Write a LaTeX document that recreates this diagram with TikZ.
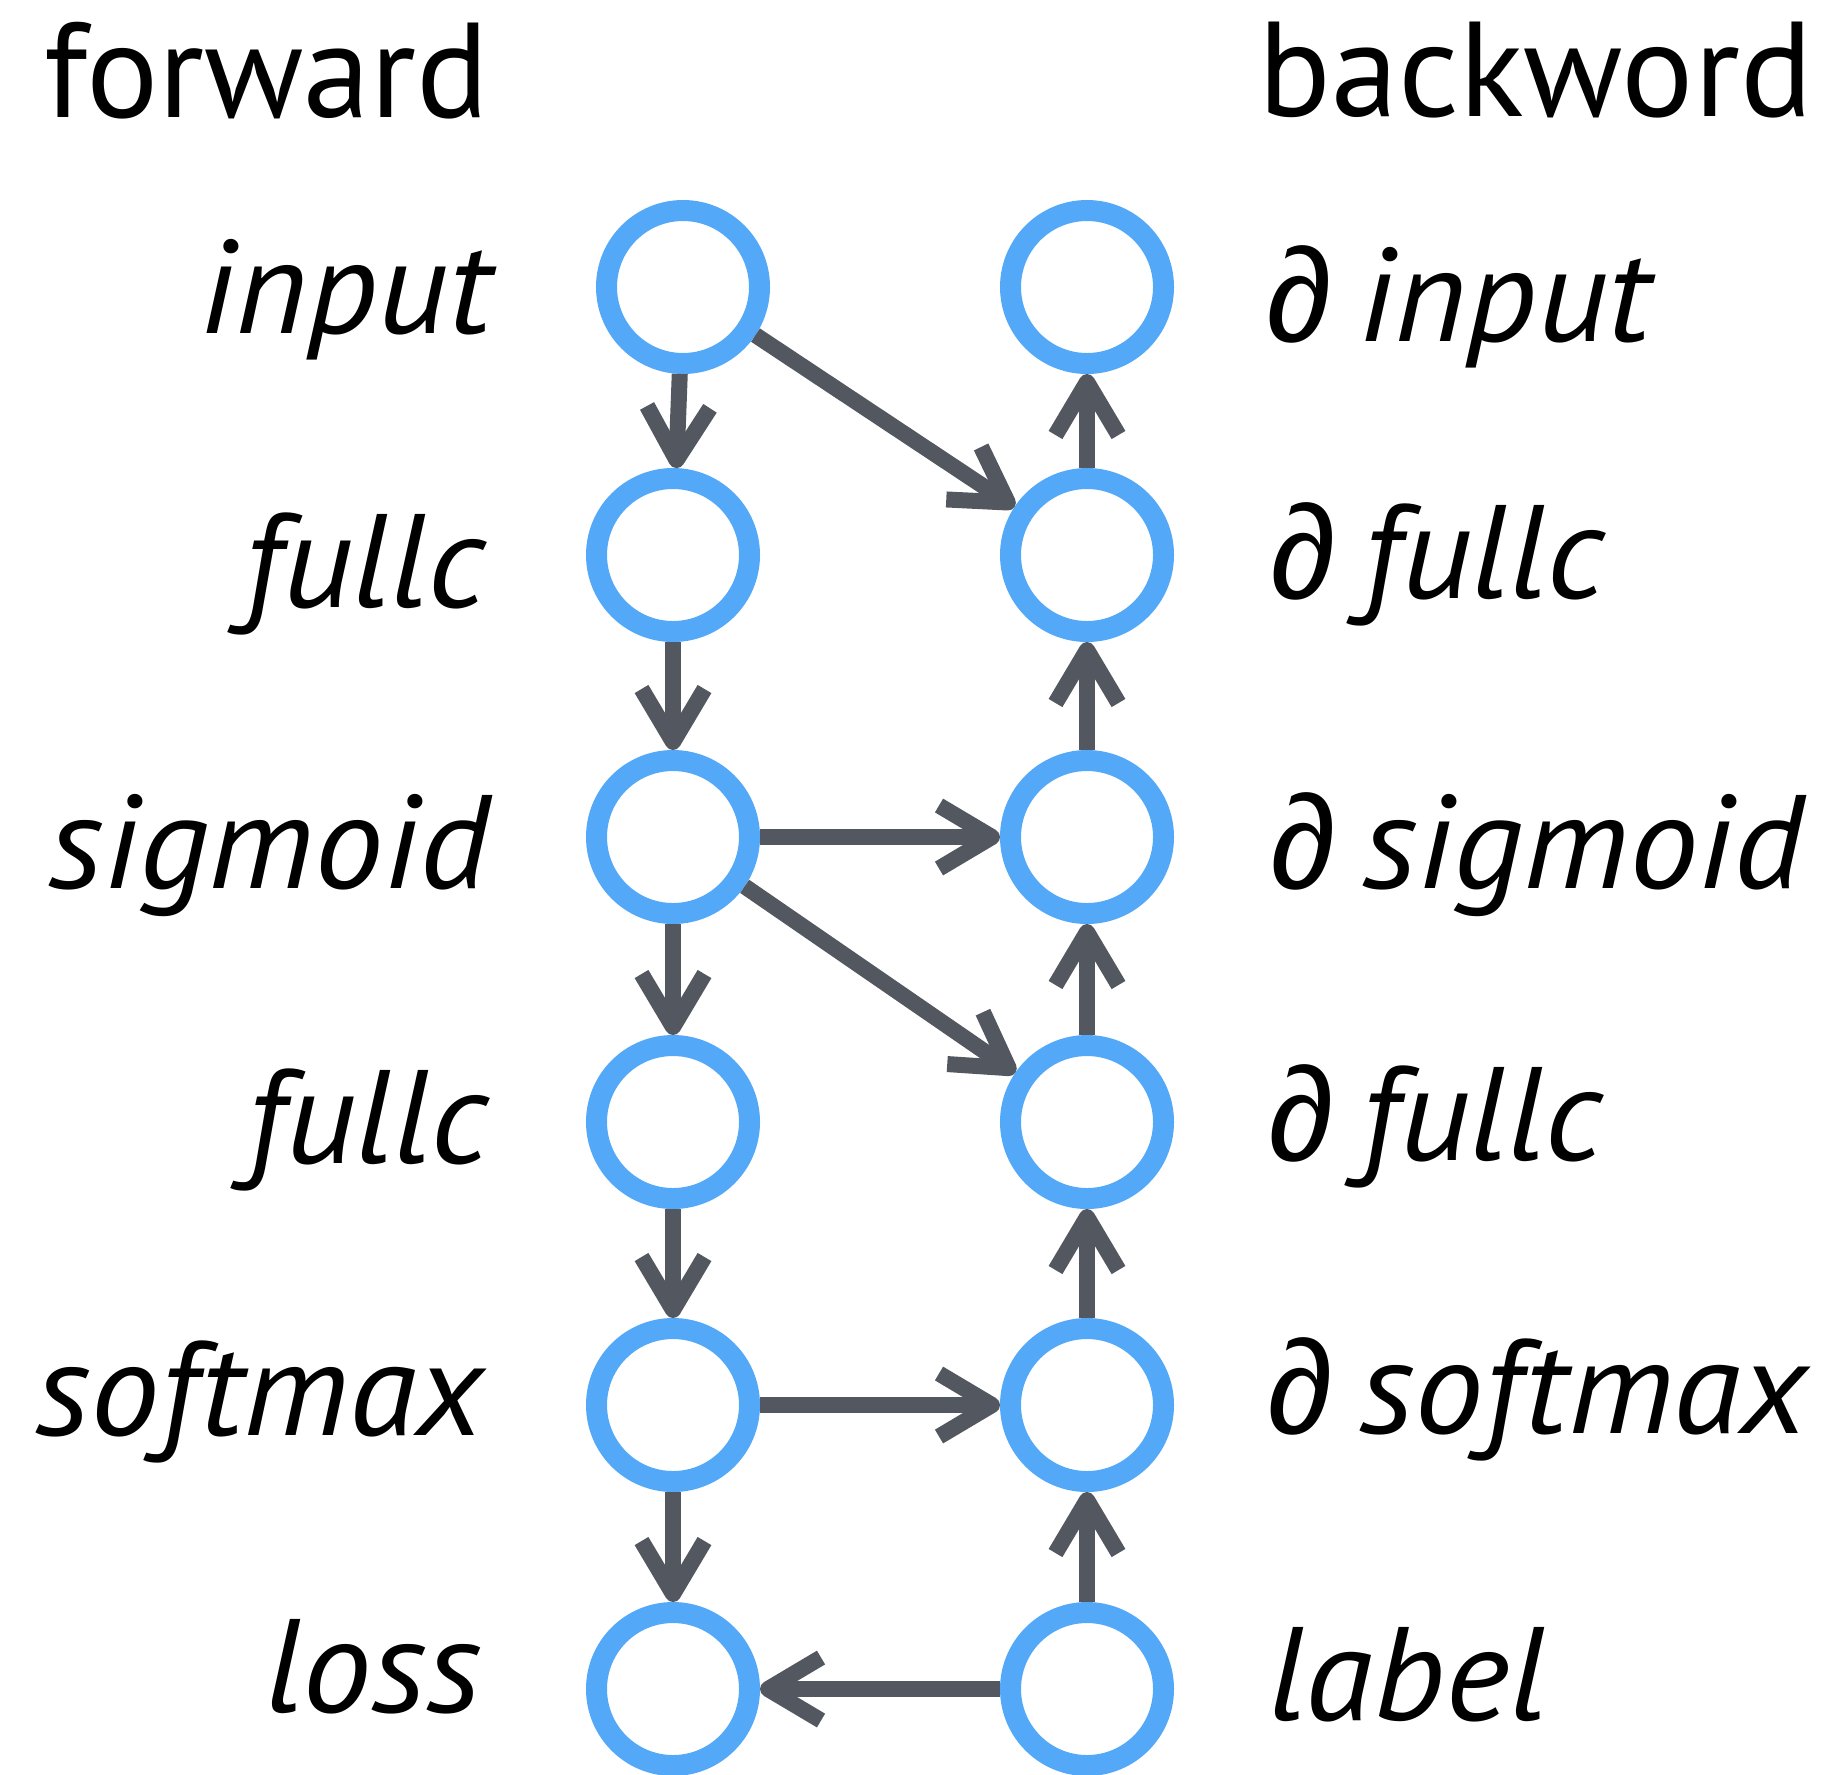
\documentclass[tikz,border=0pt]{standalone}
\usepackage{fontspec}
\setmainfont{PT Sans}[ItalicFeatures={FakeStretch=1.04}]
\newfontfamily\partialfont{Liberation Sans}
\usetikzlibrary{arrows.meta}
\definecolor{nodeblue}{RGB}{83,168,248}
\definecolor{edgegray}{RGB}{83,88,96}
\begin{document}
\begin{tikzpicture}[x=0.5pt,y=-0.5pt,
  unit/.style={circle, draw=nodeblue, line width=10.5pt, minimum size=76.5pt, inner sep=0pt},
  flow/.style={draw=edgegray, line width=8pt,
    -{Straight Barb[length=26.5pt,width=31.5pt,line cap=butt,line join=round]}},
  lbl/.style={inner sep=0pt, font=\fontsize{66.5pt}{70pt}\selectfont\itshape},
  head/.style={inner sep=0pt, font=\fontsize{67.5pt}{70pt}\selectfont},
]
\useasboundingbox (0,0) rectangle (1834,1774);

% column headers
\node[head, anchor=base west] (hfwd) at (44,117) {forward};
\node[head, anchor=base east] (hbwd) at (1813,116) {backword};

% forward units
\node[unit] (fin)  at (683,287)  {};
\node[unit] (ffc1) at (673,555)  {};
\node[unit] (fsig) at (673,837)  {};
\node[unit] (ffc2) at (673,1122) {};
\node[unit] (fsm)  at (673,1405) {};
\node[unit] (floss) at (673,1689) {};

% backward units
\node[unit] (bin)  at (1087,287)  {};
\node[unit] (bfc1) at (1087,555)  {};
\node[unit] (bsig) at (1087,837)  {};
\node[unit] (bfc2) at (1087,1122) {};
\node[unit] (bsm)  at (1087,1405) {};
\node[unit] (blab) at (1087,1689) {};

% forward labels
\node[lbl, anchor=base east] (tfin)  at (492,333)  {input};
\node[lbl, anchor=base east] (tffc1) at (486,607)  {fullc};
\node[lbl, anchor=base east] (tfsig) at (490,888)  {sigmoid};
\node[lbl, anchor=base east] (tffc2) at (489,1163) {fullc};
\node[lbl, anchor=base east] (tfsm)  at (484,1435) {softmax};
\node[lbl, anchor=base east] (tflos) at (482,1712) {loss};

% backward labels
\newcommand{\dpart}{{\partialfont\upshape ∂}\hspace{0.2em}}
\node[lbl, anchor=base west] (tbin)  at (1266,341)  {\dpart input};
\node[lbl, anchor=base west] (tbfc1) at (1270,598)  {\dpart fullc};
\node[lbl, anchor=base west] (tbsig) at (1270,888)  {\dpart sigmoid};
\node[lbl, anchor=base west] (tbfc2) at (1268,1160) {\dpart fullc};
\node[lbl, anchor=base west] (tbsm)  at (1267,1433) {\dpart softmax};
\node[lbl, anchor=base west] (tblab) at (1268,1720) {label};

% forward pass
\draw[flow] (fin) -- (ffc1);
\draw[flow] (ffc1) -- (fsig);
\draw[flow] (fsig) -- (ffc2);
\draw[flow] (ffc2) -- (fsm);
\draw[flow] (fsm) -- (floss);

% forward values feeding the gradients
\draw[flow] (fin) -- (bfc1);
\draw[flow] (fsig) -- (bsig);
\draw[flow] (fsig) -- (bfc2);
\draw[flow] (fsm) -- (bsm);
\draw[flow] (blab) -- (floss);

% backward pass
\draw[flow] (blab) -- (bsm);
\draw[flow] (bsm) -- (bfc2);
\draw[flow] (bfc2) -- (bsig);
\draw[flow] (bsig) -- (bfc1);
\draw[flow] (bfc1) -- (bin);
\end{tikzpicture}
\end{document}
